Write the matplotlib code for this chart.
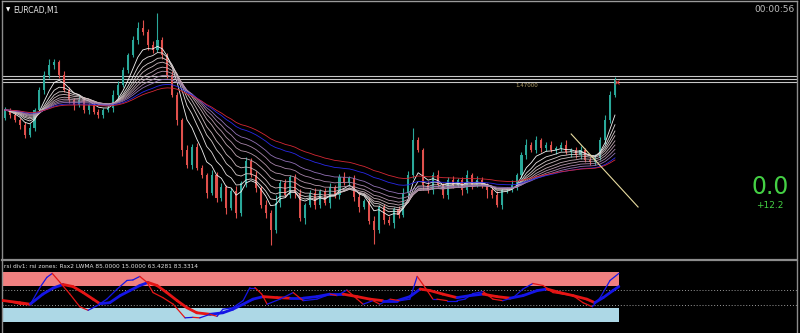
import numpy as np
import pandas as pd
import matplotlib
matplotlib.use("Agg")
import matplotlib.pyplot as plt
from matplotlib.collections import LineCollection

# ---------------- data ----------------
symbol = "EURCAD,M1"
timer_text = "00:00:56"
big_value = "0.0"
small_value = "+12.2"
level_label = "1.47000"
rsi_label = "rsi div1: rsi zones: Rsx2 LWMA 85.0000 15.0000 63.4281 83.3314"

# closes in pips above 1.4449 (so 251 == 1.47000)
first_open = 215
close_pips = [223, 218, 213, 208, 198, 205, 223, 243, 258, 268,
              271, 258, 243, 233, 228, 233, 223, 228, 221, 218,
              223, 225, 238, 248, 263, 278, 293, 305, 301, 288,
              283, 293, 278, 258, 238, 213, 183, 168, 186, 165,
              158, 140, 158, 135, 146, 125, 142, 120, 150, 172,
              158, 145, 128, 120, 103, 130, 150, 138, 156, 140,
              115, 128, 140, 128, 142, 130, 146, 138, 156, 150,
              155, 136, 126, 132, 112, 103, 126, 113, 110, 124,
              118, 140, 158, 193, 183, 148, 143, 158, 148, 138,
              153, 148, 153, 143, 158, 148, 153, 148, 143, 138,
              128, 143, 143, 148, 158, 178, 188, 183, 193, 185,
              188, 183, 185, 188, 181, 183, 178, 183, 173, 171,
              175, 193, 213, 238, 253]
upper_wick = [3, 2, 4, 2, 3, 5, 2, 3, 4, 6,
              3, 2, 4, 3, 2, 5, 3, 2, 4, 3,
              2, 3, 5, 4, 3, 2, 4, 6, 8, 3,
              4, 27, 3, 2, 4, 3, 2, 5, 3, 4,
              3, 2, 5, 3, 4, 2, 3, 5, 2, 4,
              3, 4, 2, 5, 3, 8, 3, 4, 2, 3,
              4, 2, 3, 5, 2, 3, 4, 2, 3, 5,
              2, 3, 4, 2, 3, 5, 2, 3, 4, 2,
              3, 5, 4, 12, 3, 2, 4, 3, 5, 2,
              3, 4, 2, 3, 5, 2, 4, 3, 2, 3,
              4, 2, 3, 5, 2, 3, 6, 3, 4, 2,
              3, 4, 2, 3, 5, 2, 3, 4, 2, 3,
              4, 3, 5, 4, 3]
lower_wick = [2, 3, 2, 4, 3, 2, 3, 2, 4, 3,
              4, 3, 2, 3, 5, 2, 3, 4, 2, 3,
              3, 2, 4, 3, 2, 3, 2, 4, 3, 5,
              3, 2, 4, 3, 2, 5, 6, 3, 4, 2,
              3, 5, 2, 4, 3, 6, 2, 5, 3, 4,
              2, 4, 3, 5, 15, 3, 4, 2, 3, 5,
              3, 6, 2, 4, 3, 2, 5, 3, 4, 2,
              3, 4, 5, 2, 3, 14, 3, 4, 2, 5,
              3, 2, 4, 3, 2, 5, 3, 4, 2, 3,
              4, 3, 2, 5, 3, 4, 2, 3, 8, 3,
              2, 4, 3, 2, 5, 3, 4, 2, 3, 4,
              3, 2, 4, 3, 2, 5, 3, 4, 2, 3,
              3, 2, 4, 3, 2]

ma_periods = [6, 9, 12, 15, 19, 23, 28, 34, 45, 55]
ma_colors = ['#f4f4f4', '#e4dede', '#d6cccc', '#cab8bc', '#c0a8b2',
             '#b496aa', '#a684a8', '#9070b4', '#2828e8', '#d42834']
price_levels = [257, 254, 251]
trend_bars = [115.1, 128.7]
trend_pips = [199, 126]

# RSI-type oscillator (fast and slow), sampled at bar positions
fast_bar = [-1.0, 1.0, 3.0, 5.1, 7.1, 8.5, 9.6, 11.2, 13.2, 15.2, 16.9, 18.7,
            20.7, 22.8, 24.8, 26.0, 27.4, 28.9, 30.1, 32.1, 34.2, 36.6, 38.2,
            39.6, 41.7, 43.1, 44.3, 46.3, 48.4, 49.8, 50.8, 52.2, 53.3, 55.9,
            58.6, 60.6, 63.4, 66.1, 67.5, 69.5, 71.6, 72.8, 74.8, 76.2, 78.3,
            80.3, 82.3, 83.8, 85.4, 87.0, 87.8, 89.9, 91.9, 93.5, 95.1, 97.2,
            99.2, 101.2, 103.3, 105.3, 107.3, 109.4, 111.4, 113.4, 115.5,
            117.5, 119.4, 121.0, 123.0, 124.8]
fast_val = [43, 41, 36, 35, 69, 89, 97, 79, 56, 31, 24, 33,
            46, 66, 83, 84, 91, 79, 59, 49, 36, 9, 10,
            9, 16, 12, 26, 29, 43, 69, 69, 56, 36, 46,
            59, 43, 46, 56, 53, 64, 46, 36, 43, 36, 46,
            43, 46, 91, 69, 46, 46, 43, 43, 46, 57, 61,
            46, 43, 49, 66, 77, 73, 59, 56, 53,
            39, 31, 49, 83, 97]
slow_bar = [-1.0, 3.0, 5.1, 7.7, 9.8, 11.8, 13.8, 15.9, 17.9, 19.3, 21.3,
            23.4, 25.4, 27.4, 29.1, 30.9, 32.9, 35.0, 37.0, 39.0, 41.7, 44.3,
            46.3, 48.4, 50.4, 52.5, 55.3, 57.9, 60.6, 63.4, 66.1, 68.7, 71.6,
            74.2, 76.8, 79.7, 82.3, 84.4, 86.4, 89.0, 91.9, 94.5, 97.2, 100.0,
            102.7, 105.3, 108.2, 110.2, 112.8, 115.5, 118.3, 119.9, 121.6,
            123.6, 124.8]
slow_val = [44, 39, 36, 56, 68, 75, 71, 59, 46, 37, 39,
            53, 63, 73, 79, 73, 59, 43, 29, 19, 16, 19,
            26, 36, 46, 51, 49, 48, 48, 51, 56, 56, 51,
            46, 43, 43, 51, 66, 63, 56, 49, 53, 56, 51,
            48, 53, 63, 66, 59, 53, 46, 39, 49,
            63, 71]
zone_hi = [72, 100]
zone_lo = [0, 28]
dotted_levels = [65, 35]

# ---------------- figure ----------------
W, H = 800, 333
fig = plt.figure(figsize=(W / 100, H / 100), dpi=100, facecolor='black')

def rect(x0, y0, x1, y1):
    return [x0 / W, 1 - y1 / H, (x1 - x0) / W, (y1 - y0) / H]

px_per_bar = 4.919
xl = (2 - 5) / px_per_bar
xr = (797 - 5) / px_per_bar

ax = fig.add_axes(rect(2, 1, 797, 258), facecolor='black')
sub = fig.add_axes(rect(2, 260, 797, 333), facecolor='black')

for a in (ax, sub):
    a.set_xlim(xl, xr)
    a.set_xticks([])
    a.set_yticks([])
    for s in a.spines.values():
        s.set_color('#8c8c8c')
        s.set_linewidth(1.0)
    a.spines['bottom'].set_visible(False)
ax.spines['top'].set_color('#9a9a9a')
sub.spines['top'].set_linewidth(1.6)

ax.set_ylim(75, 332)

# candles
close = np.array(close_pips, dtype=float)
opens = np.concatenate([[first_open], close[:-1]])
highs = np.maximum(opens, close) + np.array(upper_wick)
lows = np.minimum(opens, close) - np.array(lower_wick)
xs = np.arange(len(close))
up = close >= opens
col = np.where(up, '#2aa89a', '#e0504c')
ax.vlines(xs, lows, highs, colors=col, linewidth=0.8, zorder=2)
body_h = np.where(np.abs(close - opens) < 0.8, 0.8, np.abs(close - opens))
ax.bar(xs, body_h, bottom=np.minimum(opens, close), width=0.42,
       color=col, linewidth=0, zorder=3)

# moving average ribbon
s = pd.Series(close)
for p, c in zip(ma_periods, ma_colors):
    ax.plot(xs, s.ewm(span=p, adjust=False).mean(), color=c, lw=0.6, zorder=4)

# horizontal price lines
for lv in price_levels:
    ax.axhline(lv, color='#c8c8c8', lw=0.8, zorder=1)
ax.text(103.7, price_levels[-1] - 1, level_label, color='#b8a46c', fontsize=4,
        ha='left', va='top', zorder=5)
ax.plot([xs[-1] + 0.5], [price_levels[-1]], marker='x', color='#e03030',
        ms=2.5, mew=0.7, zorder=5)

# trend line
ax.plot(trend_bars, trend_pips, color='#e8dca0', lw=0.8, zorder=5)

# texts main panel
fig.text(6 / W, 1 - 10 / H, '\u25BC', color='white', fontsize=4, ha='left', va='center')
fig.text(13 / W, 1 - 10 / H, symbol, color='#e8e8e8', fontsize=5.5, ha='left', va='center')
fig.text(795 / W, 1 - 9 / H, timer_text, color='#bdbdbd', fontsize=6.5, ha='right', va='center')
fig.text(770 / W, 1 - 187 / H, big_value, color='#44d044', fontsize=17, ha='center', va='center')
fig.text(770 / W, 1 - 205 / H, small_value, color='#44d044', fontsize=6.5, ha='center', va='center')

# oscillator panel
sub.set_ylim(-21, 123.5)
xb0, xb1 = xl, fast_bar[-1]
sub.fill_between([xb0, xb1], zone_hi[0], zone_hi[1], color='#f08080', lw=0, zorder=1)
sub.fill_between([xb0, xb1], zone_lo[0], zone_lo[1], color='#add8e6', lw=0, zorder=1)
for lv in dotted_levels:
    sub.axhline(lv, color='#9a9a9a', lw=0.7, ls=(0, (1, 2)), zorder=2)

def sloped(a, xv, yv, lw):
    xv = np.array(xv); yv = np.array(yv, dtype=float)
    pts = np.column_stack([xv, yv]).reshape(-1, 1, 2)
    segs = np.concatenate([pts[:-1], pts[1:]], axis=1)
    cols = ['#1515e6' if yv[i + 1] >= yv[i] else '#e51515' for i in range(len(yv) - 1)]
    lc = LineCollection(segs, colors=cols, linewidths=lw, capstyle='round',
                        joinstyle='round', zorder=3)
    a.add_collection(lc)

sloped(sub, slow_bar, slow_val, 2.0)
sloped(sub, fast_bar, fast_val, 0.9)

fig.text(4 / W, 1 - 266 / H, rsi_label, color='#e0e0e0', fontsize=4.2, ha='left', va='center')

fig.savefig('out.png', dpi=100, facecolor='black')
